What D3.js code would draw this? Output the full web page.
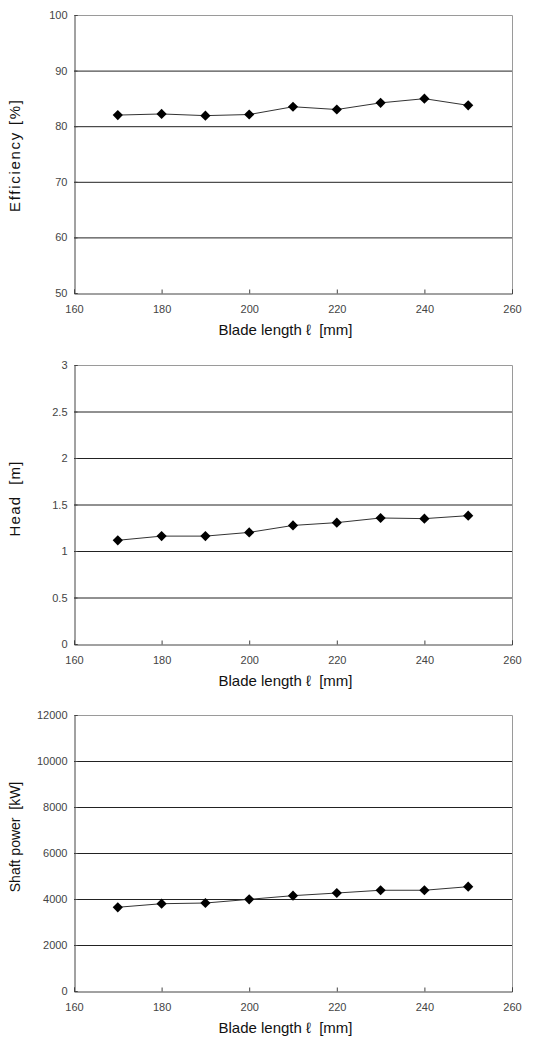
<!DOCTYPE html>
<html>
<head>
<meta charset="utf-8">
<script src="https://cdn.jsdelivr.net/npm/d3@7"></script>
<style>
  html, body { margin: 0; padding: 0; background: #fff; }
  svg { display: block; }
  text { white-space: pre; }
</style>
</head>
<body>
<svg id="chart" width="559" height="1048"></svg>
<script>
// ---- data ----
const bladeLength = [170, 180, 190, 200, 210, 220, 230, 240, 250];
const efficiency = [82.0, 82.2, 81.9, 82.1, 83.5, 83.0, 84.2, 84.95, 83.75];
const head = [1.115, 1.16, 1.16, 1.20, 1.275, 1.305, 1.355, 1.348, 1.38];
const shaftPower = [3640, 3795, 3825, 3985, 4145, 4260, 4380, 4380, 4535];

const xTicks = [160, 180, 200, 220, 240, 260];
const effTicks = [50, 60, 70, 80, 90, 100];
const headTicks = [0, 0.5, 1, 1.5, 2, 2.5, 3];
const powerTicks = [0, 2000, 4000, 6000, 8000, 10000, 12000];

const xTitle = "Blade length \u2113  [mm]";
const yTitles = ["Efficiency [%]", "Head  [m]", "Shaft power  [kW]"];

const panels = [
  { values: efficiency, ticks: effTicks, domain: [50, 100], title: yTitles[0], top: 15, bottom: 293, titleCenter: 156, titleLen: 112, titleSize: 15 },
  { values: head, ticks: headTicks, domain: [0, 3], title: yTitles[1], top: 365, bottom: 644, titleCenter: 499, titleLen: 75, titleSize: 15 },
  { values: shaftPower, ticks: powerTicks, domain: [0, 12000], title: yTitles[2], top: 715, bottom: 991, titleCenter: 837, titleLen: null, titleSize: 14 }
];

const left = 74, right = 512;
const svg = d3.select("#chart");
const font = "'Liberation Sans', Arial, sans-serif";

panels.forEach(p => {
  const g = svg.append("g");
  const x = d3.scaleLinear().domain([160, 260]).range([left, right]);
  const y = d3.scaleLinear().domain(p.domain).range([p.bottom, p.top]);

  // gridlines (interior)
  g.selectAll("line.grid")
    .data(p.ticks.filter(t => t !== p.domain[0] && t !== p.domain[1]))
    .enter().append("line")
    .attr("x1", left).attr("x2", right)
    .attr("y1", d => y(d) + 0.5).attr("y2", d => y(d) + 0.5)
    .attr("stroke", "#222").attr("stroke-width", 1);

  // top and right border
  g.append("path")
    .attr("d", `M${left},${y(p.domain[1]) + 0.5}H${right + 0.5}V${y(p.domain[0])}`)
    .attr("fill", "none").attr("stroke", "#9a9a9a").attr("stroke-width", 1);

  // y axis
  const yAxis = d3.axisLeft(y).tickValues(p.ticks).tickSize(-3).tickPadding(7).tickFormat(d => String(d));
  const ya = g.append("g").attr("transform", `translate(${left + 0.5},0)`).call(yAxis);
  ya.select(".domain").attr("stroke", "#444");
  ya.selectAll(".tick line").attr("stroke", "#444");
  ya.selectAll("text").attr("fill", "#444").style("font-family", font).style("font-size", "11px");

  // x axis
  const xAxis = d3.axisBottom(x).tickValues(xTicks).tickSize(-4).tickPadding(12).tickFormat(d => String(d));
  const xa = g.append("g").attr("transform", `translate(0,${p.bottom + 0.5})`).call(xAxis);
  xa.select(".domain").attr("stroke", "#444");
  xa.selectAll(".tick line").attr("stroke", "#444");
  xa.selectAll("text").attr("fill", "#444").style("font-family", font).style("font-size", "11px");

  // data line
  const line = d3.line().x((d, i) => x(bladeLength[i])).y(d => y(d));
  g.append("path").datum(p.values)
    .attr("d", line).attr("fill", "none").attr("stroke", "#333").attr("stroke-width", 1);

  // markers
  g.selectAll("path.mk").data(p.values).enter().append("path")
    .attr("class", "mk")
    .attr("d", d3.symbol(d3.symbolSquare, 52))
    .attr("transform", (d, i) => `translate(${x(bladeLength[i])},${y(d)}) rotate(45)`)
    .attr("fill", "#000");

  // x title
  g.append("text")
    .attr("x", 285.5).attr("y", p.bottom + 42)
    .attr("text-anchor", "middle")
    .style("font-family", font).style("font-size", "15px").attr("fill", "#111")
    .text(xTitle);

  // y title
  const yt = g.append("text")
    .attr("transform", `translate(20,${p.titleCenter}) rotate(-90)`)
    .attr("text-anchor", "middle")
    .style("font-family", font).style("font-size", p.titleSize + "px").attr("fill", "#111")
    .text(p.title);
  if (p.titleLen) yt.attr("textLength", p.titleLen).attr("lengthAdjust", "spacing");
});
</script>
</body>
</html>
